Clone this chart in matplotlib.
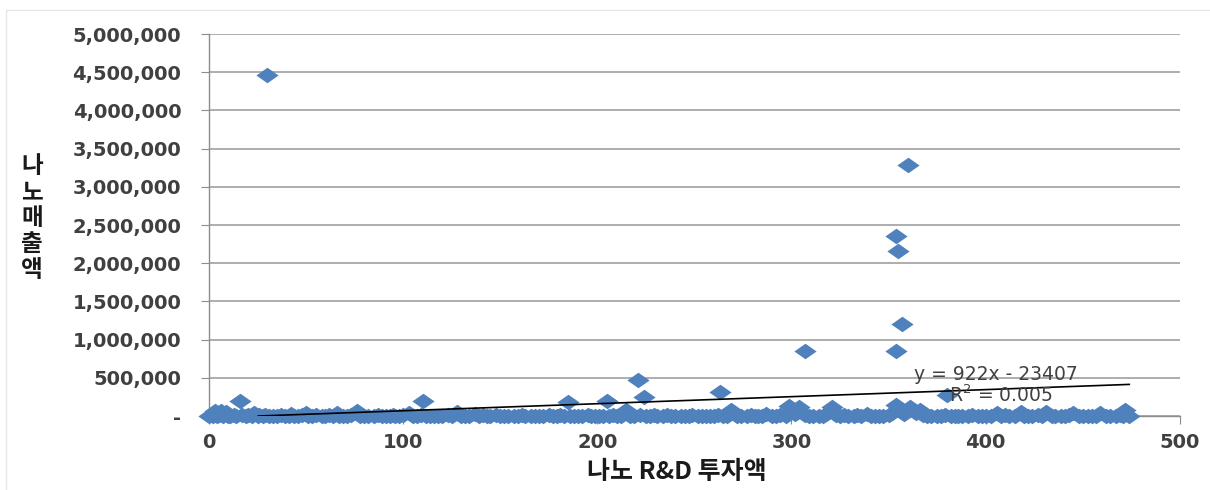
import matplotlib.pyplot as plt
import numpy as np
from matplotlib.ticker import FuncFormatter
from matplotlib.patches import Rectangle

# points lying near zero (x = 나노 R&D 투자액, y = 나노매출액)
near_zero = [
    (0, 2000), (1, 8000), (2, 0), (3, 60000), (4, 5000), (5, 12000), (6, 65000),
    (7, 3000), (8, 20000), (9, 50000), (10, 0), (11, 6000), (13, 15000), (14, 2000),
    (17, 9000), (19, 0), (20, 10000), (22, 4000), (23, 40000), (25, 0), (26, 7000),
    (28, 3000), (29, 15000), (31, 0), (33, 5000), (35, 2000), (37, 8000), (39, 0),
    (41, 6000), (42, 26000), (44, 3000), (46, 0), (48, 9000), (50, 40000), (51, 2000),
    (53, 0), (55, 7000), (58, 4000), (60, 0), (62, 10000), (64, 3000), (66, 40000),
    (67, 0), (69, 6000), (71, 2000), (73, 9000), (76, 65000), (78, 0), (80, 5000),
    (82, 3000), (85, 0), (87, 8000), (89, 2000), (91, 0), (93, 6000), (95, 15000),
    (96, 3000), (98, 0), (100, 7000), (103, 40000), (105, 2000), (107, 0), (109, 9000),
    (112, 4000), (114, 0), (116, 6000), (118, 2000), (120, 0), (123, 8000), (125, 3000),
    (128, 52000), (130, 0), (132, 5000), (134, 2000), (137, 30000), (139, 0), (141, 7000),
    (143, 3000), (145, 0), (148, 9000), (150, 2000), (152, 0), (154, 6000), (157, 4000),
    (159, 0), (161, 8000), (163, 2000), (166, 0), (168, 5000), (170, 3000), (172, 0),
    (175, 7000), (177, 2000), (179, 0), (181, 10000), (183, 4000), (186, 0), (188, 6000),
    (190, 2000), (192, 0), (195, 8000), (197, 3000), (199, 0), (201, 5000), (203, 2000),
    (206, 0), (208, 9000), (210, 4000), (212, 0), (215, 80000), (217, 6000), (219, 0),
    (222, 15000), (225, 3000), (227, 0), (229, 7000), (231, 2000), (234, 0), (236, 9000),
    (238, 4000), (240, 0), (243, 6000), (245, 2000), (247, 0), (249, 8000), (252, 3000),
    (254, 0), (256, 5000), (258, 2000), (260, 0), (262, 10000), (265, 4000), (267, 0),
    (269, 80000), (272, 6000), (274, 2000), (277, 0), (279, 8000), (281, 3000), (283, 0),
    (285, 5000), (287, 30000), (290, 2000), (292, 0), (294, 9000), (297, 4000),
    (299, 130000), (302, 20000), (304, 115000), (307, 10000), (309, 0), (311, 6000),
    (314, 2000), (316, 0), (318, 20000), (321, 115000), (323, 15000), (325, 0),
    (327, 7000), (329, 3000), (332, 0), (334, 9000), (336, 4000), (339, 30000), (341, 0),
    (343, 6000), (345, 2000), (347, 0), (350, 15000), (352, 40000), (354, 145000),
    (356, 60000), (358, 20000), (361, 115000), (364, 40000), (366, 80000), (368, 10000),
    (370, 0), (372, 6000), (375, 2000), (377, 0), (379, 8000), (382, 3000), (384, 0),
    (386, 5000), (388, 2000), (391, 0), (393, 15000), (396, 4000), (398, 0), (400, 6000),
    (403, 2000), (406, 40000), (408, 0), (410, 8000), (412, 3000), (415, 0), (418, 52000),
    (420, 5000), (422, 2000), (424, 0), (427, 9000), (429, 4000), (431, 52000), (434, 0),
    (436, 6000), (439, 2000), (441, 0), (443, 8000), (445, 40000), (448, 3000), (450, 0),
    (453, 5000), (455, 2000), (457, 0), (459, 40000), (462, 6000), (464, 2000), (467, 0),
    (469, 8000), (471, 3000), (472, 80000), (474, 5000),
]

# isolated larger values
outlier_x = [30, 360, 354, 355, 357, 354, 307, 221, 224, 16, 110, 185, 205, 263, 380]
outlier_y = [4460000, 3280000, 2360000, 2160000, 1200000, 850000, 850000, 470000,
             250000, 200000, 200000, 180000, 200000, 310000, 270000]

# Excel linear trendline shown in the chart
trend_slope = 922
trend_intercept = -23407
trend_r2 = 0.005

y_ticks = np.arange(0, 5000001, 500000)
x_ticks = [0, 100, 200, 300, 400, 500]

blue = '#4F81BD'
grid_gray = '#A0A0A0'
text_gray = '#404040'
kfont = ['Noto Sans CJK KR', 'DejaVu Sans']

xs = [p[0] for p in near_zero] + outlier_x
ys = [p[1] for p in near_zero] + outlier_y

fig = plt.figure(figsize=(12.1, 4.9), dpi=100)
ax = fig.add_axes([0.1727, 0.151, 0.8023, 0.7796])

# diamond a bit wider than tall, like the picture
diamond = [(-1, 0), (0, 0.7), (1, 0), (0, -0.7), (-1, 0)]
ax.plot(xs, ys, linestyle='none', marker=diamond, markersize=16,
        color=blue, markeredgewidth=0, clip_on=False, zorder=4)

x_start = max(min(xs), -trend_intercept / trend_slope)
x_end = max(xs)
tx = np.array([x_start, x_end])
ax.plot(tx, trend_slope * tx + trend_intercept, color='black', linewidth=1.2, zorder=5)

ax.text(363, 540000, 'y = %dx - %d' % (trend_slope, -trend_intercept),
        fontsize=13.5, color=text_gray, va='center', ha='left', zorder=6)
ax.text(381, 278000, 'R$^2$ = %.3f' % trend_r2,
        fontsize=13.5, color=text_gray, va='center', ha='left', zorder=6)

ax.set_xlim(0, 500)
ax.set_ylim(0, 5000000)
ax.set_yticks(y_ticks)
ax.set_xticks(x_ticks)
ax.yaxis.set_major_formatter(FuncFormatter(lambda v, p: '-' if v == 0 else f'{int(v):,}'))
ax.grid(axis='y', color=grid_gray, linewidth=1.2)
ax.set_axisbelow(True)

for s in ['top', 'right']:
    ax.spines[s].set_visible(False)
for s in ['left', 'bottom']:
    ax.spines[s].set_color('#8C8C8C')
    ax.spines[s].set_linewidth(1.0)

ax.tick_params(axis='both', direction='out', length=6, color='#8C8C8C',
               labelcolor=text_gray, labelsize=14)
ax.tick_params(axis='y', pad=14)
ax.tick_params(axis='x', pad=6)
for lab in ax.get_xticklabels() + ax.get_yticklabels():
    lab.set_fontweight('bold')

fig.text(0.559, 0.036, '나노 R&D 투자액', family=kfont, fontsize=18,
         fontweight='bold', ha='center', va='center', color='#1a1a1a')
fig.text(0.0265, 0.555, '나\n노\n매\n출\n액', family=kfont, fontsize=17,
         fontweight='bold', ha='center', va='center', linespacing=1.1,
         color='#1a1a1a')

fig.patches.append(Rectangle((0.005, -0.01), 1.0, 0.99, transform=fig.transFigure,
                             fill=False, edgecolor='#E6E6E6', linewidth=1.0))

fig.savefig('out.png', dpi=100)
